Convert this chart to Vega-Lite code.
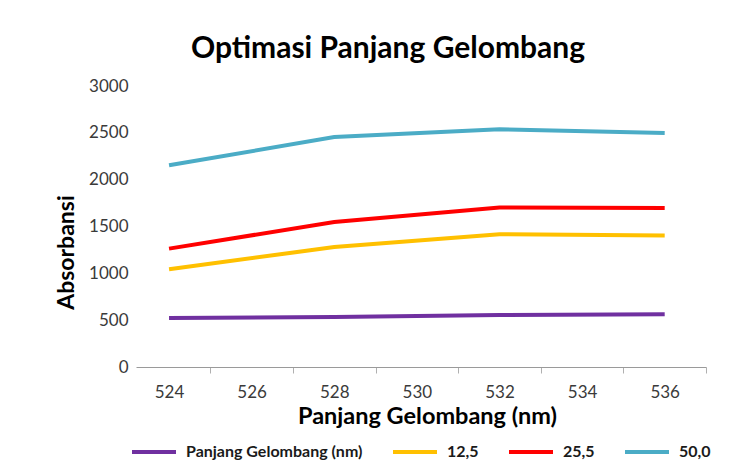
{
  "$schema": "https://vega.github.io/schema/vega-lite/v6.json",
  "autosize": {"type": "none"},
  "padding": {"left": 136, "top": 86, "right": 47, "bottom": 95},
  "width": 570,
  "height": 281,
  "background": "white",
  "title": {
    "text": "Optimasi Panjang Gelombang",
    "font": "Lato",
    "fontSize": 30,
    "fontWeight": "bold",
    "color": "#000000",
    "anchor": "middle",
    "frame": "group",
    "baseline": "alphabetic",
    "offset": 28,
    "dx": -33,
    "dy": 39
  },
  "data": {
    "values": [
      {"lambda": 524, "seri": "Panjang Gelombang (nm)", "abs": 523},
      {"lambda": 528, "seri": "Panjang Gelombang (nm)", "abs": 534},
      {"lambda": 532, "seri": "Panjang Gelombang (nm)", "abs": 555},
      {"lambda": 536, "seri": "Panjang Gelombang (nm)", "abs": 563},
      {"lambda": 524, "seri": "12,5", "abs": 1043},
      {"lambda": 528, "seri": "12,5", "abs": 1281},
      {"lambda": 532, "seri": "12,5", "abs": 1417},
      {"lambda": 536, "seri": "12,5", "abs": 1403},
      {"lambda": 524, "seri": "25,5", "abs": 1264},
      {"lambda": 528, "seri": "25,5", "abs": 1548},
      {"lambda": 532, "seri": "25,5", "abs": 1702},
      {"lambda": 536, "seri": "25,5", "abs": 1697},
      {"lambda": 524, "seri": "50,0", "abs": 2153},
      {"lambda": 528, "seri": "50,0", "abs": 2455},
      {"lambda": 532, "seri": "50,0", "abs": 2538},
      {"lambda": 536, "seri": "50,0", "abs": 2498}
    ]
  },
  "mark": {"type": "line", "strokeWidth": 4, "strokeCap": "butt"},
  "encoding": {
    "x": {
      "field": "lambda",
      "type": "quantitative",
      "scale": {"domain": [523.2, 537], "nice": false, "zero": false},
      "axis": {
        "title": "Panjang Gelombang (nm)",
        "values": [524, 526, 528, 530, 532, 534, 536],
        "tickOffset": 41.3,
        "labelOffset": -41.3,
        "grid": false,
        "domainColor": "#9a9a9a",
        "tickColor": "#b0b0b0",
        "tickSize": 6,
        "labelFont": "Lato",
        "labelFontSize": 17,
        "labelColor": "#3a3a3a",
        "labelPadding": 11,
        "labelFlush": false,
        "titleFont": "Lato",
        "titleFontSize": 23.5,
        "titleFontWeight": "bold",
        "titleColor": "#000000",
        "titleX": 291,
        "titleY": 56,
        "titleAlign": "center",
        "titleBaseline": "alphabetic"
      }
    },
    "y": {
      "field": "abs",
      "type": "quantitative",
      "scale": {"domain": [0, 3000], "nice": false},
      "axis": {
        "title": "Absorbansi",
        "values": [0, 500, 1000, 1500, 2000, 2500, 3000],
        "format": "d",
        "grid": false,
        "domain": false,
        "ticks": false,
        "labelFont": "Lato",
        "labelFontSize": 17,
        "labelColor": "#3a3a3a",
        "labelPadding": 8,
        "titleFont": "Lato",
        "titleFontSize": 23,
        "titleFontWeight": "bold",
        "titleColor": "#000000",
        "titleX": -63,
        "titleY": 166,
        "titleAngle": -90,
        "titleAlign": "center",
        "titleBaseline": "alphabetic"
      }
    },
    "color": {
      "field": "seri",
      "type": "nominal",
      "sort": ["Panjang Gelombang (nm)", "12,5", "25,5", "50,0"],
      "scale": {
        "domain": ["Panjang Gelombang (nm)", "12,5", "25,5", "50,0"],
        "range": ["#7030A0", "#FFC000", "#FF0000", "#4BACC6"]
      },
      "legend": {
        "title": null,
        "orient": "none",
        "direction": "horizontal",
        "gridAlign": "none",
        "legendX": -6,
        "legendY": 342,
        "symbolType": "stroke",
        "symbolSize": 1936,
        "symbolStrokeWidth": 4,
        "labelFont": "Lato",
        "labelFontSize": 16,
        "labelFontWeight": "bold",
        "labelColor": "#1a1a1a",
        "labelOffset": 8,
        "labelLimit": 400,
        "columnPadding": 22
      }
    }
  },
  "config": {"view": {"stroke": null}}
}
